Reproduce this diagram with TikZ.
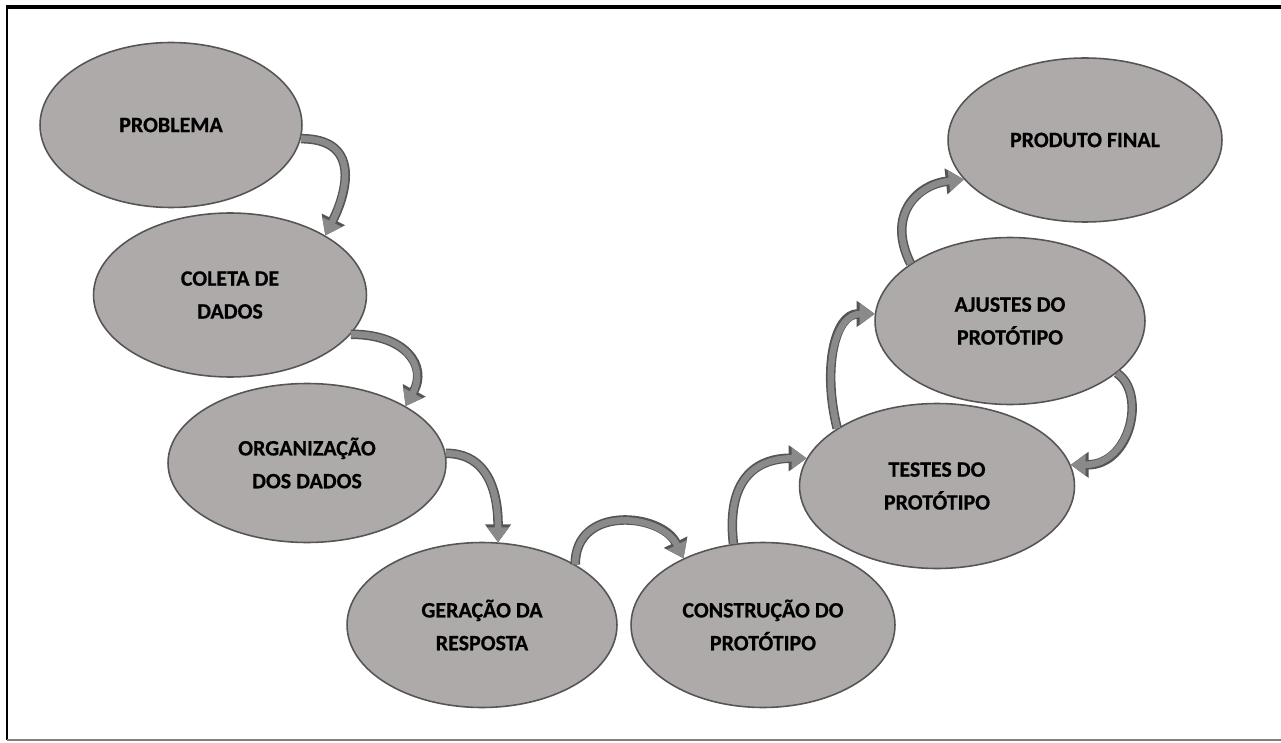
\documentclass[tikz,border=0pt]{standalone}
\usepackage{fontspec}
\setsansfont{Carlito}[BoldFeatures={FakeBold=0.6}]
\usetikzlibrary{shapes.geometric,arrows.meta}
\definecolor{stagegray}{HTML}{AEAAAA}
\definecolor{rimgray}{HTML}{555555}
\definecolor{arrowgray}{HTML}{8A8A8A}
\begin{document}
\begin{tikzpicture}[
  x=0.02cm, y=-0.02cm,
  font=\sffamily\bfseries\fontsize{12.5}{18.7}\selectfont,
  stage/.style={ellipse, draw=rimgray, line width=0.9pt, fill=stagegray,
    minimum width=5.4cm, minimum height=3.3cm, inner sep=0pt, align=center},
  turn/.style={arrowgray, line width=0.13cm,
    -{Triangle[width=0.42cm,length=0.3cm]},
    preaction={draw=rimgray, line width=0.19cm,
      -{Triangle[width=0.5cm,length=0.36cm]}}},
  frameline/.style={line width=1.1pt}
]
\useasboundingbox (0,0) rectangle (1281,743);

% moldura
\draw[frameline] (7,740) -- (7,7);
\draw[line width=2.4pt] (6,7) -- (1281,7);
\draw[frameline, gray] (7,740) -- (1281,740);

% etapas
\node[stage, minimum width=5.24cm, minimum height=3.3cm] (prob) at (171,125) {PROBLEMA};
\node[stage, minimum width=5.46cm, minimum height=3.28cm] (coleta) at (230,295) {COLETA DE\\DADOS};
\node[stage, minimum width=5.56cm, minimum height=3.18cm] (org) at (307,463) {ORGANIZAÇÃO\\DOS DADOS};
\node[stage, minimum width=5.4cm, minimum height=3.3cm] (resp) at (482,625) {GERAÇÃO DA\\RESPOSTA};
\node[stage, minimum width=5.28cm, minimum height=3.3cm] (constr) at (763,625) {CONSTRUÇÃO DO\\PROTÓTIPO};
\node[stage, minimum width=5.5cm, minimum height=3.3cm] (testes) at (937,486) {TESTES DO\\PROTÓTIPO};
\node[stage, minimum width=5.4cm, minimum height=3.34cm] (ajustes) at (1010,321) {AJUSTES DO\\PROTÓTIPO};
\node[stage, minimum width=5.48cm, minimum height=3.28cm] (final) at (1085,140) {PRODUTO FINAL};

% setas curvas
\draw[turn] (prob.-6) .. controls +(60,0) and +(22,-44) .. (coleta.32);
\draw[turn] (coleta.-18) .. controls +(55,0) and +(22,-40) .. (org.30);
\draw[turn] (org.4) .. controls +(45,0) and +(0,-45) .. (resp.79);
\draw[turn] (resp.33) .. controls +(0,-60) and +(-22,-45) .. (constr.140);
\draw[turn] (constr.110) .. controls +(-8,-70) and +(-45,0) .. (testes.168);
\draw[turn] (testes.150) .. controls +(-15,-60) and +(-40,0) .. (ajustes.177);
\draw[turn] (ajustes.-26) .. controls +(30,20) and +(60,0) .. (testes.9);
\draw[turn] (ajustes.150) .. controls +(-25,-50) and +(-45,5) .. (final.-162);

\end{tikzpicture}
\end{document}
